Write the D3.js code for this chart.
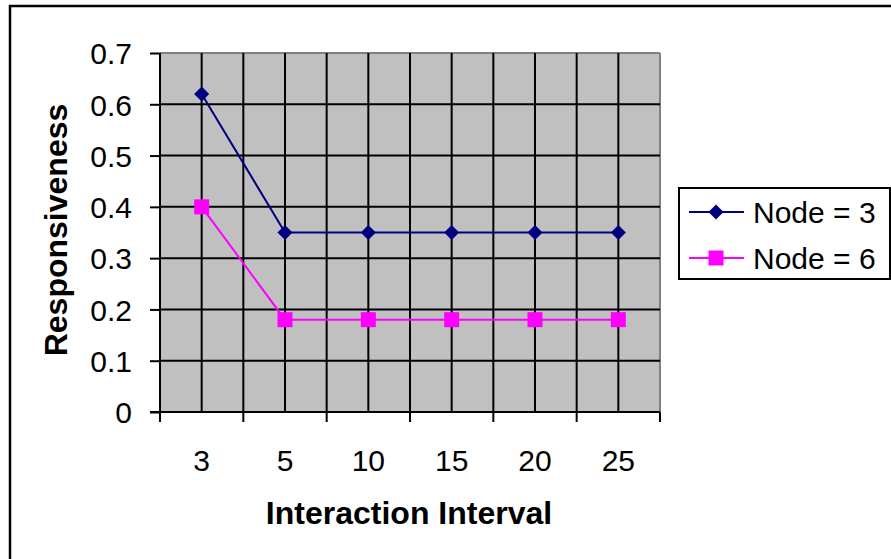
<!DOCTYPE html>
<html>
<head>
<meta charset="utf-8">
<script src="https://cdn.jsdelivr.net/npm/d3@7"></script>
<style>
  html, body { margin: 0; padding: 0; background: #fff; }
  svg { display: block; }
  text { font-family: Arial, "Liberation Sans", sans-serif; fill: #000; }
</style>
</head>
<body>
<svg id="chart" width="891" height="559"></svg>
<script>
const categories = ["3", "5", "10", "15", "20", "25"];
const node3 = [0.62, 0.35, 0.35, 0.35, 0.35, 0.35];
const node6 = [0.40, 0.18, 0.18, 0.18, 0.18, 0.18];
const yTicks = [0, 0.1, 0.2, 0.3, 0.4, 0.5, 0.6, 0.7];
const seriesNames = ["Node = 3", "Node = 6"];
const seriesColors = ["#000080", "#FF00FF"];

(function () {
const svg = d3.select("#chart");

// outer border
svg.append("rect").attr("x", 10).attr("y", 6).attr("width", 900).attr("height", 600)
  .attr("fill", "#fff").attr("stroke", "#000").attr("stroke-width", 2.5);

const pL = 160, pR = 660, pT = 53, pB = 412;
const x = d3.scaleBand().domain(categories).range([pL, pR]).padding(0);
const y = d3.scaleLinear().domain([0, 0.7]).range([pB, pT]);

// plot background
svg.append("rect").attr("x", pL).attr("y", pT).attr("width", pR - pL).attr("height", pB - pT)
  .attr("fill", "#C0C0C0");

// top & right border gray
svg.append("line").attr("x1", pL).attr("x2", pR).attr("y1", pT).attr("y2", pT)
  .attr("stroke", "#808080").attr("stroke-width", 2);
svg.append("line").attr("x1", pR).attr("x2", pR).attr("y1", pT).attr("y2", pB)
  .attr("stroke", "#808080").attr("stroke-width", 2);

// horizontal gridlines
svg.append("g").selectAll("line").data(yTicks.filter(t => t > 0 && t < 0.7)).join("line")
  .attr("x1", pL).attr("x2", pR).attr("y1", d => y(d)).attr("y2", d => y(d))
  .attr("stroke", "#000").attr("stroke-width", 2);

// vertical gridlines: band centers and inner boundaries
const vLines = [];
categories.forEach((c, i) => {
  vLines.push(x(c) + x.bandwidth() / 2);
  if (i > 0) vLines.push(x(c));
});
svg.append("g").selectAll("line").data(vLines).join("line")
  .attr("x1", d => d).attr("x2", d => d).attr("y1", pT).attr("y2", pB)
  .attr("stroke", "#000").attr("stroke-width", 2);

// Y axis
const yAxis = d3.axisLeft(y).tickValues(yTicks).tickSize(10).tickFormat(d3.format(".1~f"));
const gy = svg.append("g").attr("transform", `translate(${pL},0)`).call(yAxis);
gy.select(".domain").attr("stroke", "#000").attr("stroke-width", 2).attr("d", `M0,${pT}V${pB}`);
gy.selectAll(".tick line").attr("stroke", "#000").attr("stroke-width", 2);
gy.selectAll(".tick text").attr("x", -28).attr("dy", "0.36em")
  .style("font-size", "30px").style("font-family", "Arial, 'Liberation Sans', sans-serif").attr("fill", "#000");

// X axis: ticks at boundaries
const boundaries = categories.map(c => x(c)).concat([pR]);
const gx = svg.append("g");
gx.append("line").attr("x1", pL - 10).attr("x2", pR).attr("y1", pB).attr("y2", pB)
  .attr("stroke", "#000").attr("stroke-width", 2);
gx.selectAll("line.tk").data(boundaries).join("line").attr("class", "tk")
  .attr("x1", d => d).attr("x2", d => d).attr("y1", pB).attr("y2", pB + 10)
  .attr("stroke", "#000").attr("stroke-width", 2);
gx.selectAll("text").data(categories).join("text")
  .attr("x", d => x(d) + x.bandwidth() / 2).attr("y", 471)
  .attr("text-anchor", "middle").style("font-size", "30px").text(d => d);

// axis titles
svg.append("text").attr("x", 409).attr("y", 524).attr("text-anchor", "middle")
  .style("font-size", "32px").style("font-weight", "bold").text("Interaction Interval");
svg.append("text").attr("transform", "translate(67,230) rotate(-90)").attr("text-anchor", "middle")
  .style("font-size", "32px").style("font-weight", "bold").text("Responsiveness");

// series
const series = [node3, node6];
const line = d3.line().x((d, i) => x(categories[i]) + x.bandwidth() / 2).y(d => y(d));
series.forEach((vals, si) => {
  svg.append("path").datum(vals).attr("d", line).attr("fill", "none")
    .attr("stroke", seriesColors[si]).attr("stroke-width", 2);
});
const diamond = d3.symbol().type(d3.symbolDiamond2).size(145);
const square = d3.symbol().type(d3.symbolSquare).size(225);
svg.append("g").selectAll("path").data(node3).join("path")
  .attr("transform", (d, i) => `translate(${x(categories[i]) + x.bandwidth() / 2},${y(d)})`)
  .attr("d", diamond).attr("fill", seriesColors[0]);
svg.append("g").selectAll("path").data(node6).join("path")
  .attr("transform", (d, i) => `translate(${x(categories[i]) + x.bandwidth() / 2},${y(d)})`)
  .attr("d", square).attr("fill", seriesColors[1]);

// legend
const lg = svg.append("g");
lg.append("rect").attr("x", 679).attr("y", 188).attr("width", 211).attr("height", 91)
  .attr("fill", "#fff").attr("stroke", "#000").attr("stroke-width", 2);
const rowsY = [212, 258];
seriesNames.forEach((name, i) => {
  lg.append("line").attr("x1", 689).attr("x2", 744).attr("y1", rowsY[i]).attr("y2", rowsY[i])
    .attr("stroke", seriesColors[i]).attr("stroke-width", 2);
  lg.append("path").attr("transform", `translate(716,${rowsY[i]})`)
    .attr("d", i === 0 ? diamond : square).attr("fill", seriesColors[i]);
  lg.append("text").attr("x", 753).attr("y", rowsY[i] + 11)
    .style("font-size", "30px").text(name);
});
})();
</script>
</body>
</html>
